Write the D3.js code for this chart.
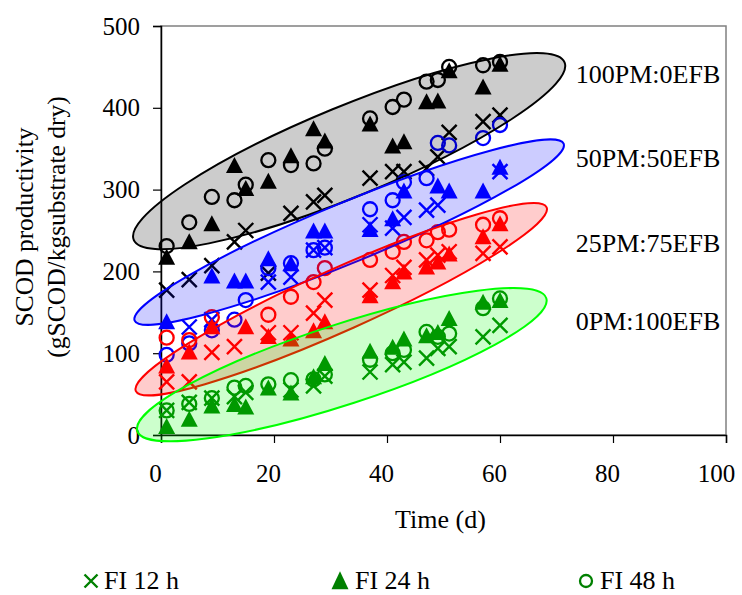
<!DOCTYPE html>
<html>
<head>
<meta charset="utf-8">
<script src="https://cdn.jsdelivr.net/npm/d3@7"></script>
<style>
  html, body { margin: 0; padding: 0; background: #fff; }
  svg { display: block; font-family: "Liberation Serif", "Times New Roman", serif; }
</style>
</head>
<body>
<svg id="chart" width="742" height="595"></svg>
<script>
// Sampling days (d)
const times = [1, 5, 9, 13, 15, 19, 23, 27, 29, 37, 41, 43, 47, 49, 51, 57, 60];

// SCOD productivity (gSCOD/kg substrate dry), one array per mix and feeding interval
const pm100_fi12 = [177, 190, 207, 236, 250, 198, 271, 285, 293, 314, 322, 322, 326, 340, 370, 383, 391];
const pm100_fi24 = [216, 235, 257, 328, 300, 309, 340, 373, 358, 379, 352, 357, 406, 407, 444, 424, 452];
const pm100_fi48 = [231, 260, 291, 287, 306, 336, 330, 332, 350, 387, 401, 410, 432, 434, 450, 452, 456];

const pm50_fi12 = [null, 132, 141, null, null, 187, 193, 226, 229, 257, 253, 266, 275, 281, null, null, 322];
const pm50_fi24 = [137, null, 193, 187, 187, 214, 208, 248, 248, 250, 263, 297, null, 303, 297, 297, 326];
const pm50_fi48 = [98, 112, 128, 141, 165, 204, 210, 226, 229, 276, 287, 309, 314, 357, 354, 363, 379];

const pm25_fi12 = [65, 65, 101, 108, null, 125, 125, 149, 165, 177, 195, 205, 214, 220, 224, 222, 230];
const pm25_fi24 = [83, 100, 131, null, 131, 119, 116, 126, 137, 169, 186, 198, 204, 210, 220, 241, 257];
const pm25_fi48 = [119, 116, 144, null, null, 147, 169, 187, 204, 214, 224, 236, 238, 248, 251, 257, 265];

const pm0_fi12 = [30, 40, 45, 47, 52, null, 55, 60, 72, 77, 86, 89, 94, 106, 108, 120, 134];
const pm0_fi24 = [9, 18, 34, 36, 33, 56, 50, 70, 86, 101, 106, 116, 120, 124, 141, 161, 163];
const pm0_fi48 = [30, 38, 45, 58, 60, 62, 67, 68, 74, 92, 100, 104, 126, 120, 124, 155, 167];

const mixLabels = ["100PM:0EFB", "50PM:50EFB", "25PM:75EFB", "0PM:100EFB"];
const seriesLabels = ["FI 12 h", "FI 24 h", "FI 48 h"];
const xTicks = [0, 20, 40, 60, 80, 100];
const yTicks = [0, 100, 200, 300, 400, 500];

// ---- styling / layout ----
const mixStyles = [
  { color: "#000000", fill: "rgba(0,0,0,0.2)",   edge: "#000000" },
  { color: "#0000ff", fill: "rgba(0,0,255,0.2)", edge: "#0000ff" },
  { color: "#ff0000", fill: "rgba(255,0,0,0.2)", edge: "#ff0000" },
  { color: "#008000", fill: "rgba(0,255,0,0.2)", edge: "#00ff00" }
];
// Grouping ellipses: centre in data units, radii in px, rotation in degrees
const groupShapes = [
  { t: 33.3, v: 347, rx: 233, ry: 45, rot: -22.4 },
  { t: 33.3, v: 248, rx: 232, ry: 30, rot: -22.4 },
  { t: 31.9, v: 166, rx: 225, ry: 31, rot: -24.1 },
  { t: 32.0, v: 86,  rx: 215, ry: 40, rot: -18.0 }
];
const mixLabelY = [83, 167, 252, 330];

const mixes = [
  [pm100_fi12, pm100_fi24, pm100_fi48],
  [pm50_fi12, pm50_fi24, pm50_fi48],
  [pm25_fi12, pm25_fi24, pm25_fi48],
  [pm0_fi12, pm0_fi24, pm0_fi48]
];

const svg = d3.select("#chart");
const plot = { left: 161, right: 726, top: 26, bottom: 435 };

const x = d3.scaleLinear().domain([0, 100]).range([plot.left, plot.right]);
const y = d3.scaleLinear().domain([0, 500]).range([plot.bottom, plot.top]);

// plot-area frame (grey), axes drawn over it in black
svg.append("rect")
  .attr("x", plot.left).attr("y", plot.top)
  .attr("width", plot.right - plot.left).attr("height", plot.bottom - plot.top)
  .attr("fill", "none").attr("stroke", "#808080").attr("stroke-width", 1.5);

const xAxis = svg.append("g")
  .attr("transform", `translate(0,${plot.bottom})`)
  .call(d3.axisBottom(x).tickValues(xTicks).tickSize(8).tickPadding(21).tickFormat(d3.format("d")));
const yAxis = svg.append("g")
  .attr("transform", `translate(${plot.left},0)`)
  .call(d3.axisLeft(y).tickValues(yTicks).tickSize(8).tickPadding(13).tickFormat(d3.format("d")));

[xAxis, yAxis].forEach(g => {
  g.select(".domain").attr("stroke", "#000").attr("stroke-width", 1.5);
  g.selectAll(".tick line").attr("stroke", "#000").attr("stroke-width", 1.2);
  g.selectAll(".tick text")
    .attr("fill", "#000")
    .style("font-family", "'Liberation Serif', 'Times New Roman', serif")
    .style("font-size", "25px");
});
// day labels sit slightly left of their ticks; the last one is pulled in to fit
xAxis.selectAll(".tick text").attr("x", d => (d === 100 ? -10 : -6));

// marker painters
function drawCross(g, cx, cy, color, h, sw) {
  g.append("path")
    .attr("d", `M${cx - h},${cy - h}L${cx + h},${cy + h}M${cx - h},${cy + h}L${cx + h},${cy - h}`)
    .attr("stroke", color).attr("stroke-width", sw).attr("fill", "none");
}
function drawTriangle(g, cx, cy, color, w, h) {
  g.append("path")
    .attr("d", `M${cx},${cy - h * 0.6}L${cx + w / 2},${cy + h * 0.4}L${cx - w / 2},${cy + h * 0.4}Z`)
    .attr("fill", color);
}
function drawCircle(g, cx, cy, color, r, sw) {
  g.append("circle")
    .attr("cx", cx).attr("cy", cy).attr("r", r)
    .attr("fill", "none").attr("stroke", color).attr("stroke-width", sw);
}

const marks = svg.append("g");
mixes.forEach((series, mi) => {
  const col = mixStyles[mi].color;
  series.forEach((vals, si) => {
    vals.forEach((v, i) => {
      if (v == null) return;
      const px = x(times[i]), py = y(v);
      if (si === 0) drawCross(marks, px, py, col, 7.5, 2.4);
      else if (si === 1) drawTriangle(marks, px, py, col, 17, 16);
      else drawCircle(marks, px, py, col, 7, 2.3);
    });
  });
});

// translucent grouping ellipses over the markers
const shapes = svg.append("g");
groupShapes.forEach((s, i) => {
  shapes.append("ellipse")
    .attr("transform", `translate(${x(s.t)},${y(s.v)}) rotate(${s.rot})`)
    .attr("rx", s.rx).attr("ry", s.ry)
    .attr("fill", mixStyles[i].fill)
    .attr("stroke", mixStyles[i].edge)
    .attr("stroke-width", 2);
});

// mix labels
mixLabels.forEach((lab, i) => {
  svg.append("text")
    .attr("x", 648).attr("y", mixLabelY[i])
    .attr("text-anchor", "middle")
    .style("font-size", "26px")
    .text(lab);
});

// axis titles
svg.append("text")
  .attr("x", (plot.left + plot.right) / 2 - 3).attr("y", 528)
  .attr("text-anchor", "middle")
  .style("font-size", "26px")
  .text("Time (d)");

const yTitle = svg.append("text")
  .attr("transform", "translate(0,227) rotate(-90)")
  .attr("text-anchor", "middle")
  .style("font-size", "25.5px");
yTitle.append("tspan").attr("x", 0).attr("y", 33).text("SCOD productivity");
yTitle.append("tspan").attr("x", 0).attr("y", 65).text("(gSCOD/kgsubstrate dry)");

// legend
const legendGreen = "#008000";
const legendItems = [
  { sx: 91, tx: 104 },
  { sx: 340, tx: 355 },
  { sx: 586, tx: 600 }
];
const leg = svg.append("g");
legendItems.forEach((it, i) => {
  const cy = 581;
  if (i === 0) drawCross(leg, it.sx, cy, legendGreen, 6.5, 2.4);
  else if (i === 1) drawTriangle(leg, it.sx, cy + 1, legendGreen, 17, 18);
  else drawCircle(leg, it.sx, cy, legendGreen, 6, 2.3);
  leg.append("text")
    .attr("x", it.tx).attr("y", 589)
    .style("font-size", "26px")
    .text(seriesLabels[i]);
});
</script>
</body>
</html>
